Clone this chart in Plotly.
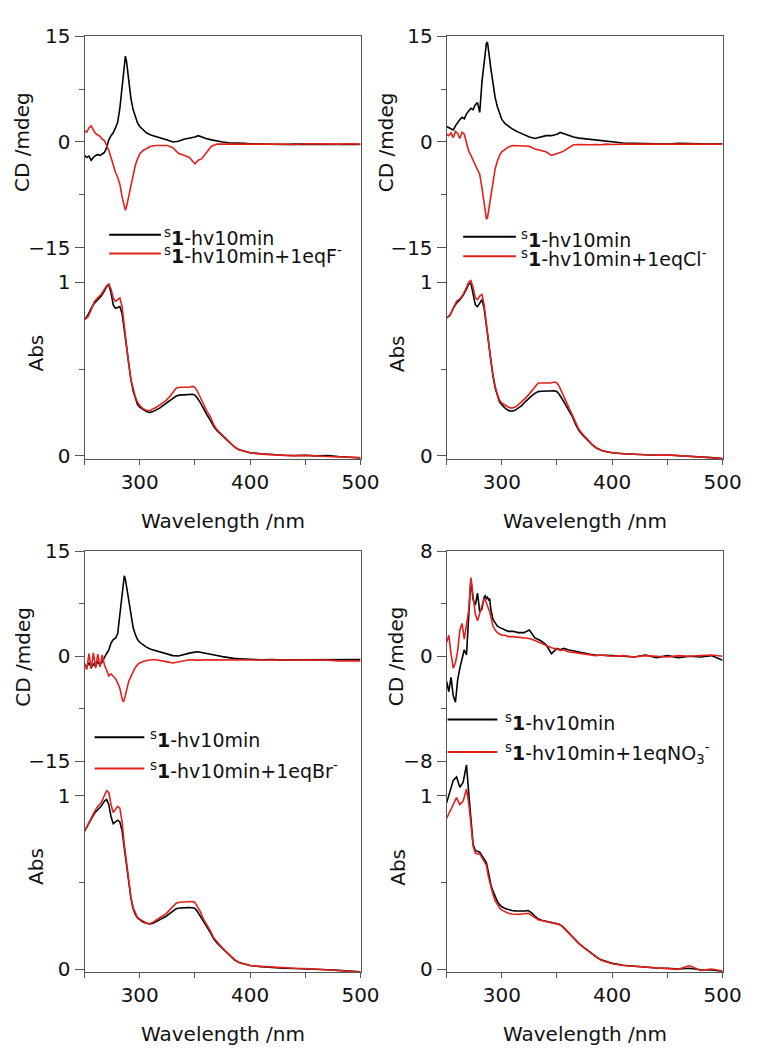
import plotly.graph_objects as go

# ---------------- data ----------------
wl_cd = [250, 252, 254, 256, 258, 260, 262, 264, 266, 268, 270, 272, 274, 276, 278, 280, 282, 284,
         285, 286, 287, 288, 289, 290, 292, 294, 296, 298, 300, 303, 306, 310,
         315, 320, 325, 330, 335, 340, 345, 350, 353, 356, 360, 365, 370, 375, 380, 385, 390, 395, 400,
         410, 420, 430, 440, 450, 460, 470, 480, 490, 500]

wl_abs = [250, 253, 256, 259, 262, 265, 268, 270, 272, 274, 276, 278, 280, 282, 284, 286, 288, 290,
          292, 294, 296, 298, 300, 303, 306, 309, 312, 315, 318, 321, 324, 327, 330, 333, 336,
          340, 344, 348, 350, 352, 355, 358, 361, 364, 367, 370, 374, 378, 382, 386, 390, 395, 400,
          410, 420, 430, 440, 450, 460, 470, 480, 490, 500]

# Panel F-
cd_F_black = [-1.9, -2.2, -2.0, -2.6, -2.2, -1.9, -1.8, -1.9, -1.7, -1.5, -0.8, 0.3, 0.9, 1.3, 2.0, 2.8, 4.8, 7.5,
              9.2, 11.0, 12.2, 11.5, 10.0, 8.6, 6.2, 4.6, 3.5, 2.7, 2.2, 1.7, 1.3, 1.0,
              0.8, 0.5, 0.3, 0.0, 0.1, 0.4, 0.5, 0.7, 0.9, 0.7, 0.5, 0.3, 0.1, 0.0, -0.1, -0.1, -0.2, -0.2, -0.25,
              -0.3, -0.25, -0.35, -0.3, -0.3, -0.35, -0.25, -0.35, -0.3, -0.35]
cd_F_red = [1.6, 1.4, 2.0, 2.3, 1.7, 1.2, 1.0, 0.8, 0.4, 0.2, -0.5, -1.2, -2.2, -3.4, -4.3, -5.0, -6.0, -7.8,
            -8.6, -9.3, -9.7, -9.2, -8.4, -7.8, -6.2, -4.6, -3.3, -2.4, -1.7, -1.2, -0.9, -0.6,
            -0.5, -0.5, -0.5, -0.8, -1.6, -1.9, -2.2, -3.1, -2.6, -2.4, -1.6, -0.6, -0.3, -0.35, -0.3, -0.3, -0.35, -0.3, -0.3,
            -0.35, -0.3, -0.3, -0.35, -0.25, -0.3, -0.35, -0.3, -0.25, -0.3]
abs_F_black = [0.785, 0.81, 0.85, 0.88, 0.90, 0.92, 0.95, 0.975, 0.985, 0.94, 0.87, 0.85, 0.855, 0.86, 0.82, 0.73, 0.63, 0.52,
               0.44, 0.375, 0.33, 0.295, 0.28, 0.265, 0.255, 0.25, 0.255, 0.265, 0.275, 0.29, 0.305, 0.32, 0.335, 0.345, 0.35,
               0.352, 0.354, 0.355, 0.35, 0.335, 0.305, 0.265, 0.235, 0.205, 0.17, 0.145, 0.12, 0.098, 0.073, 0.05, 0.035, 0.025, 0.018,
               0.012, 0.007, 0.004, 0.002, 0.004, 0.0, 0.002, -0.004, -0.008, -0.012]
abs_F_red = [0.785, 0.80, 0.84, 0.89, 0.91, 0.93, 0.96, 0.98, 0.99, 0.96, 0.91, 0.89, 0.90, 0.91, 0.86, 0.74, 0.64, 0.53,
             0.44, 0.38, 0.34, 0.31, 0.29, 0.272, 0.263, 0.26, 0.268, 0.28, 0.292, 0.305, 0.32, 0.34, 0.365, 0.39, 0.395,
             0.395, 0.395, 0.40, 0.395, 0.375, 0.335, 0.29, 0.255, 0.225, 0.18, 0.15, 0.125, 0.10, 0.075, 0.05, 0.035, 0.025, 0.018,
             0.01, 0.006, 0.002, 0.0, 0.003, -0.002, -0.004, -0.006, -0.008, -0.01]

# Panel Cl-
cd_Cl_black = [2.2, 2.0, 1.9, 1.7, 2.3, 2.8, 3.2, 3.5, 3.3, 4.0, 4.4, 4.8, 4.6, 5.3, 5.6, 4.2, 8.5, 11.5,
               12.8, 14.0, 14.2, 13.2, 11.8, 10.5, 8.2, 6.3, 5.0, 4.0, 3.2, 2.6, 2.2, 1.8,
               1.4, 1.0, 0.7, 0.5, 0.7, 0.9, 0.9, 1.1, 1.35, 1.2, 0.9, 0.7, 0.55, 0.45, 0.4, 0.3, 0.2, 0.1, 0.0,
               -0.15, -0.2, -0.25, -0.2, -0.3, -0.2, -0.25, -0.2, -0.3, -0.25]
cd_Cl_red = [1.1, 0.9, 1.3, 0.6, 1.5, 1.2, 0.5, 1.4, 1.1, -0.2, -1.3, -1.9, -2.6, -3.3, -4.0, -4.6, -6.5, -8.8,
             -10.0, -10.9, -10.8, -9.8, -8.7, -7.4, -5.4, -3.8, -2.7, -1.9, -1.4, -1.0, -0.7, -0.5,
             -0.5, -0.6, -0.6, -1.0, -1.2, -1.4, -1.9, -1.7, -1.5, -1.3, -0.9, -0.4, -0.35, -0.4, -0.4, -0.35, -0.4, -0.3, -0.35,
             -0.3, -0.3, -0.35, -0.3, -0.3, -0.35, -0.3, -0.3, -0.35, -0.3]
abs_Cl_black = [0.795, 0.81, 0.85, 0.88, 0.90, 0.925, 0.96, 0.99, 0.995, 0.94, 0.87, 0.86, 0.88, 0.90, 0.85, 0.75, 0.65, 0.54,
                0.46, 0.39, 0.345, 0.31, 0.295, 0.275, 0.262, 0.257, 0.262, 0.275, 0.29, 0.31, 0.33, 0.345, 0.36, 0.37, 0.372,
                0.372, 0.372, 0.375, 0.37, 0.355, 0.325, 0.29, 0.26, 0.225, 0.18, 0.145, 0.115, 0.088, 0.063, 0.044, 0.032, 0.024, 0.018,
                0.012, 0.008, 0.006, 0.004, 0.005, 0.002, 0.0, -0.006, -0.01, -0.015]
abs_Cl_red = [0.795, 0.81, 0.85, 0.89, 0.905, 0.93, 0.97, 1.0, 1.01, 0.97, 0.91, 0.90, 0.92, 0.93, 0.87, 0.76, 0.66, 0.55,
              0.47, 0.40, 0.355, 0.32, 0.305, 0.29, 0.28, 0.275, 0.28, 0.295, 0.31, 0.33, 0.35, 0.375, 0.40, 0.42, 0.42,
              0.42, 0.42, 0.425, 0.42, 0.40, 0.36, 0.32, 0.28, 0.24, 0.19, 0.15, 0.12, 0.09, 0.065, 0.045, 0.033, 0.024, 0.018,
              0.012, 0.008, 0.005, 0.004, 0.006, 0.002, 0.0, -0.005, -0.01, -0.015]

# Panel Br-
cd_Br_black = [-1.2, -1.5, -0.9, -1.6, -1.1, -1.4, -0.8, -1.2, -0.8, -0.3, 0.4, 0.9, 1.9, 2.4, 2.6, 3.2, 5.8, 8.8,
               10.2, 11.5, 11.0, 10.0, 9.0, 8.0, 6.0, 4.1, 3.1, 2.4, 2.0, 1.6, 1.3, 1.0,
               0.8, 0.5, 0.35, 0.1, 0.05, 0.3, 0.45, 0.6, 0.65, 0.55, 0.45, 0.3, 0.1, -0.05, -0.2, -0.3, -0.35, -0.4, -0.45,
               -0.5, -0.45, -0.55, -0.5, -0.5, -0.55, -0.5, -0.55, -0.5, -0.45]
cd_Br_red = [-1.0, -1.9, 0.4, -1.8, 0.5, -1.7, 0.3, -1.5, 0.2, -1.2, -2.0, -2.8, -2.5, -2.9, -3.2, -3.8, -4.6, -6.0,
             -6.5, -6.2, -5.6, -4.9, -4.2, -3.6, -2.9, -2.2, -1.6, -1.2, -0.95, -0.75, -0.6, -0.5,
             -0.5, -0.6, -0.8, -0.95, -0.8, -0.6, -0.5, -0.55, -0.5, -0.55, -0.5, -0.5, -0.55, -0.5, -0.55, -0.55, -0.5, -0.6, -0.55,
             -0.6, -0.55, -0.6, -0.55, -0.6, -0.6, -0.55, -0.65, -0.6, -0.65]
abs_Br_black = [0.797, 0.83, 0.87, 0.90, 0.92, 0.94, 0.97, 0.98, 0.95, 0.88, 0.84, 0.85, 0.86, 0.85, 0.80, 0.70, 0.60, 0.48,
                0.41, 0.35, 0.315, 0.295, 0.285, 0.272, 0.264, 0.26, 0.265, 0.275, 0.283, 0.293, 0.305, 0.32, 0.335, 0.348, 0.353,
                0.355, 0.355, 0.354, 0.35, 0.335, 0.305, 0.268, 0.24, 0.21, 0.175, 0.15, 0.125, 0.1, 0.075, 0.052, 0.037, 0.027, 0.02,
                0.013, 0.008, 0.004, 0.003, 0.002, 0.0, -0.004, -0.008, -0.012, -0.016]
abs_Br_red = [0.797, 0.83, 0.87, 0.91, 0.94, 0.96, 1.0, 1.03, 1.02, 0.95, 0.905, 0.92, 0.94, 0.93, 0.85, 0.72, 0.62, 0.49,
              0.415, 0.355, 0.32, 0.297, 0.288, 0.275, 0.266, 0.262, 0.27, 0.283, 0.294, 0.305, 0.32, 0.34, 0.36, 0.38, 0.386,
              0.388, 0.388, 0.39, 0.385, 0.365, 0.33, 0.285, 0.255, 0.22, 0.18, 0.155, 0.128, 0.102, 0.078, 0.054, 0.038, 0.028, 0.02,
              0.015, 0.01, 0.005, 0.004, 0.003, 0.0, -0.004, -0.008, -0.013, -0.017]

# Panel NO3-
cd_NO3_black = [-1.9, -2.7, -1.6, -3.0, -3.5, -1.8, -0.9, -0.2, 0.5, 0.1, 3.0, 5.9, 4.3, 3.9, 4.8, 3.4, 3.6, 4.5,
                4.6, 4.4, 4.5, 4.3, 4.4, 3.6, 2.8, 2.5, 2.3, 2.2, 2.1, 2.0, 1.9, 1.9,
                1.8, 1.8, 2.0, 1.4, 1.2, 0.9, 0.2, 0.6, 0.5, 0.6, 0.5, 0.4, 0.3, 0.2, 0.15, 0.1, 0.1, 0.05, 0.05,
                0.0, -0.05, 0.1, -0.1, 0.05, -0.1, 0.0, -0.05, 0.05, -0.3]
cd_NO3_red = [1.05, 1.6, 0.2, -0.9, -0.5, 0.4, 2.0, 2.5, 1.3, 2.4, 3.5, 6.0, 4.5, 3.2, 2.7, 3.3, 3.9, 4.4,
              4.3, 4.0, 3.8, 3.6, 3.4, 3.0, 2.3, 2.0, 1.8, 1.7, 1.6, 1.6, 1.5, 1.5,
              1.45, 1.4, 1.35, 1.2, 1.0, 0.8, 0.65, 0.55, 0.45, 0.5, 0.35, 0.3, 0.25, 0.15, 0.15, 0.05, 0.1, 0.05, 0.0,
              0.05, -0.05, 0.05, 0.0, -0.05, 0.05, 0.0, 0.05, 0.1, 0.0]
abs_NO3_black = [0.96, 1.02, 1.09, 1.11, 1.05, 1.08, 1.18, 1.02, 0.85, 0.72, 0.685, 0.68, 0.675, 0.655, 0.635, 0.615, 0.555, 0.49,
                 0.45, 0.415, 0.39, 0.372, 0.36, 0.35, 0.342, 0.338, 0.336, 0.335, 0.335, 0.335, 0.338, 0.325, 0.305, 0.29, 0.282,
                 0.276, 0.27, 0.266, 0.263, 0.258, 0.246, 0.226, 0.206, 0.186, 0.166, 0.147, 0.127, 0.107, 0.087, 0.068, 0.053, 0.043, 0.033,
                 0.022, 0.016, 0.01, 0.006, 0.004, 0.0, 0.004, -0.004, -0.006, -0.012]
abs_NO3_red = [0.87, 0.91, 0.96, 0.99, 0.95, 0.97, 1.04, 0.96, 0.84, 0.71, 0.67, 0.665, 0.665, 0.645, 0.625, 0.60, 0.53, 0.47,
               0.43, 0.395, 0.37, 0.352, 0.34, 0.33, 0.322, 0.318, 0.316, 0.316, 0.318, 0.322, 0.322, 0.31, 0.295, 0.285, 0.28,
               0.275, 0.27, 0.265, 0.262, 0.258, 0.245, 0.225, 0.205, 0.185, 0.165, 0.145, 0.125, 0.105, 0.085, 0.065, 0.05, 0.04, 0.03,
               0.02, 0.015, 0.008, 0.005, 0.002, -0.002, 0.02, -0.008, 0.0, -0.012]

legend_black = "<sup>s</sup><b>1</b>-hv10min"
legend_red = ["<sup>s</sup><b>1</b>-hv10min+1eqF<sup>-</sup>",
              "<sup>s</sup><b>1</b>-hv10min+1eqCl<sup>-</sup>",
              "<sup>s</sup><b>1</b>-hv10min+1eqBr<sup>-</sup>",
              "<sup>s</sup><b>1</b>-hv10min+1eqNO<sub>3</sub><sup>-</sup>"]
cd_ranges = [[-15, 15], [-15, 15], [-15, 15], [-8, 8]]
abs_range = [-0.02, 1.2]
x_range = [250, 500]

panels = [
    (cd_F_black, cd_F_red, abs_F_black, abs_F_red),
    (cd_Cl_black, cd_Cl_red, abs_Cl_black, abs_Cl_red),
    (cd_Br_black, cd_Br_red, abs_Br_black, abs_Br_red),
    (cd_NO3_black, cd_NO3_red, abs_NO3_black, abs_NO3_red),
]

# ---------------- layout helpers ----------------
W, H = 764, 1061
def fx(px):
    return px / W
def fy(py):
    return 1 - py / H

BLACK = "#000000"
RED = "#e3201b"
AX = "#555555"
FONT = "DejaVu Sans"

col_x = [(86.7, 369.7), (458.0, 741.0)]
row_y = [(25.0, 241.0, 457.7), (551.7, 766.7, 982.7)]
cd_title_x = [22.5, 396, 24, 406]
abs_title_x = [37, 408, 37, 408]
wl_title_y = [521, 521, 1046, 1046]
leg_line_x = [(112, 165), (475, 529), (97, 148), (459, 510)]
leg_text_x = [166, 532, 152, 516]
leg_y = [(228, 247), (230, 250), (742, 774), (724, 757)]

fig = go.Figure()
annotations = []
shapes = []
layout = {}

for i, (cdb, cdr, ab, ar) in enumerate(panels):
    c, r = i % 2, i // 2
    x0, x1 = col_x[c]
    top, mid, bot = row_y[r]
    n_cd, n_ab = 2 * i + 1, 2 * i + 2

    fig.add_trace(go.Scatter(x=wl_cd, y=cdb, mode="lines", line=dict(color=BLACK, width=1.6),
                             xaxis=f"x{n_cd}", yaxis=f"y{n_cd}", showlegend=False))
    fig.add_trace(go.Scatter(x=wl_cd, y=cdr, mode="lines", line=dict(color=RED, width=1.6),
                             xaxis=f"x{n_cd}", yaxis=f"y{n_cd}", showlegend=False))
    fig.add_trace(go.Scatter(x=wl_abs, y=ab, mode="lines", line=dict(color=BLACK, width=1.6),
                             xaxis=f"x{n_ab}", yaxis=f"y{n_ab}", showlegend=False))
    fig.add_trace(go.Scatter(x=wl_abs, y=ar, mode="lines", line=dict(color=RED, width=1.6),
                             xaxis=f"x{n_ab}", yaxis=f"y{n_ab}", showlegend=False))

    xdom = [fx(x0), fx(x1)]
    cd_dom = [fy(mid), fy(top)]
    ab_dom = [fy(bot), fy(mid)]
    cdr_ = cd_ranges[i]

    layout[f"xaxis{n_cd}"] = dict(domain=xdom, anchor=f"y{n_cd}", range=x_range, side="top",
                                  showline=True, linecolor=AX, linewidth=1, ticks="",
                                  showticklabels=False, showgrid=False, zeroline=False)
    layout[f"yaxis{n_cd}"] = dict(domain=cd_dom, anchor=f"x{n_cd}", range=cdr_, showline=True, mirror=True,
                                  linecolor=AX, linewidth=1, ticks="outside", ticklen=9, tickcolor=AX,
                                  tick0=0, dtick=cdr_[1],
                                  minor=dict(dtick=cdr_[1] / 2, tick0=0, ticks="outside", ticklen=5, tickcolor=AX),
                                  showgrid=False, zeroline=False,
                                  tickfont=dict(family=FONT, size=20, color="#111"))
    layout[f"xaxis{n_ab}"] = dict(domain=xdom, anchor=f"y{n_ab}", range=x_range, showline=True,
                                  linecolor=AX, linewidth=1, ticks="outside", ticklen=5, tickcolor=AX,
                                  tick0=0, dtick=100,
                                  minor=dict(dtick=50, tick0=0, ticks="outside", ticklen=5, tickcolor=AX),
                                  showgrid=False, zeroline=False,
                                  tickfont=dict(family=FONT, size=20, color="#111"))
    layout[f"yaxis{n_ab}"] = dict(domain=ab_dom, anchor=f"x{n_ab}", range=abs_range, showline=True, mirror=True,
                                  linecolor=AX, linewidth=1, ticks="outside", ticklen=9, tickcolor=AX,
                                  tick0=0, dtick=1,
                                  minor=dict(dtick=0.5, tick0=0, ticks="outside", ticklen=5, tickcolor=AX),
                                  showgrid=False, zeroline=False,
                                  tickfont=dict(family=FONT, size=20, color="#111"))

    tf = dict(family=FONT, size=20, color="#111")
    annotations.append(dict(text="CD /mdeg", x=fx(cd_title_x[i]), y=fy((top + mid) / 2), xref="paper", yref="paper",
                            textangle=-90, showarrow=False, font=tf, xanchor="center", yanchor="middle"))
    annotations.append(dict(text="Abs", x=fx(abs_title_x[i]), y=fy((mid + bot) / 2), xref="paper", yref="paper",
                            textangle=-90, showarrow=False, font=tf, xanchor="center", yanchor="middle"))
    annotations.append(dict(text="Wavelength /nm", x=fx((x0 + x1) / 2), y=fy(wl_title_y[i]), xref="paper", yref="paper",
                            showarrow=False, font=tf, xanchor="center", yanchor="middle"))

    lf = dict(family=FONT, size=19, color="#111")
    lx0, lx1 = leg_line_x[i]
    for yy, col, txt in [(leg_y[i][0], BLACK, legend_black), (leg_y[i][1], RED, legend_red[i])]:
        shapes.append(dict(type="line", xref="paper", yref="paper", x0=fx(lx0), x1=fx(lx1), y0=fy(yy), y1=fy(yy),
                           line=dict(color=col, width=2)))
        annotations.append(dict(text=txt, x=fx(leg_text_x[i]), y=fy(yy), xref="paper", yref="paper",
                                showarrow=False, font=lf, xanchor="left", yanchor="middle", yshift=-2))

fig.update_layout(width=W, height=H, autosize=False, margin=dict(l=0, r=0, t=0, b=0),
                  paper_bgcolor="white", plot_bgcolor="white", showlegend=False,
                  annotations=annotations, shapes=shapes, **layout)

fig.write_html("out.html")
